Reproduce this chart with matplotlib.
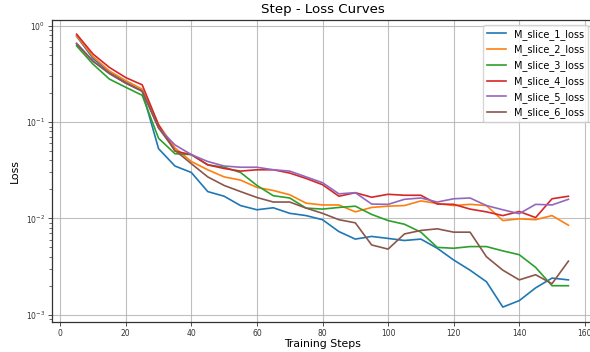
import numpy as np
import matplotlib
matplotlib.use("Agg")
import matplotlib.pyplot as plt

steps = list(range(5, 160, 5))

slice_1 = [0.78, 0.46, 0.33, 0.26, 0.21, 0.053, 0.035, 0.030, 0.019, 0.017,
           0.0136, 0.0123, 0.0129, 0.0113, 0.0107, 0.0097, 0.0073, 0.0061, 0.0065, 0.0062,
           0.0059, 0.0061, 0.0049, 0.0037, 0.0029, 0.0022, 0.0012, 0.0014, 0.0019, 0.0024,
           0.0023]
slice_2 = [0.79, 0.48, 0.34, 0.27, 0.22, 0.094, 0.054, 0.039, 0.032, 0.027,
           0.025, 0.021, 0.0195, 0.0176, 0.0144, 0.0138, 0.0138, 0.0117, 0.013, 0.0134,
           0.0136, 0.0152, 0.0143, 0.0136, 0.014, 0.0136, 0.0095, 0.0099, 0.0097, 0.0107,
           0.0085]
slice_3 = [0.62, 0.40, 0.28, 0.23, 0.19, 0.068, 0.047, 0.046, 0.036, 0.034,
           0.030, 0.022, 0.0172, 0.0163, 0.0128, 0.0125, 0.013, 0.0134, 0.011, 0.0095,
           0.0087, 0.0072, 0.0050, 0.0049, 0.0051, 0.0051, 0.0046, 0.0042, 0.0031, 0.0020,
           0.0020]
slice_4 = [0.82, 0.51, 0.37, 0.29, 0.244, 0.094, 0.050, 0.046, 0.036, 0.033,
           0.031, 0.032, 0.032, 0.0296, 0.026, 0.0224, 0.017, 0.0185, 0.0166, 0.0178,
           0.0174, 0.0174, 0.0141, 0.014, 0.0125, 0.0117, 0.0107, 0.0118, 0.0102, 0.016,
           0.017]
slice_5 = [0.66, 0.43, 0.32, 0.254, 0.21, 0.087, 0.058, 0.046, 0.039, 0.035,
           0.034, 0.034, 0.032, 0.031, 0.027, 0.0235, 0.018, 0.0185, 0.0141, 0.014,
           0.0158, 0.0163, 0.0148, 0.016, 0.0163, 0.0136, 0.0123, 0.0112, 0.014, 0.0138,
           0.0158]
slice_6 = [0.65, 0.43, 0.32, 0.254, 0.21, 0.087, 0.051, 0.037, 0.027, 0.022,
           0.019, 0.0165, 0.0148, 0.0148, 0.0128, 0.0113, 0.0097, 0.0090, 0.0053, 0.0048,
           0.0069, 0.0075, 0.0078, 0.0072, 0.0072, 0.0040, 0.0029, 0.0023, 0.0026, 0.0021,
           0.0036]

series = {
    "M_slice_1_loss": slice_1,
    "M_slice_2_loss": slice_2,
    "M_slice_3_loss": slice_3,
    "M_slice_4_loss": slice_4,
    "M_slice_5_loss": slice_5,
    "M_slice_6_loss": slice_6,
}

fig = plt.figure(figsize=(5.9, 3.52), dpi=100)
ax = fig.add_axes([52 / 590, 1 - 322 / 352, 541 / 590, 302 / 352])

for name, vals in series.items():
    ax.plot(steps, vals, label=name, linewidth=1.2)

ax.set_yscale('log')
ax.set_xlim(-2.5, 162.5)
ax.set_ylim(0.00084, 1.15)
ax.set_xticks(np.arange(0, 161, 20))
ax.grid(True, which='major', color='#b0b0b0', linewidth=0.8, alpha=0.8)
ax.tick_params(axis='both', which='major', labelsize=5.5, length=3, width=0.6,
               pad=2, colors='#333333')
ax.tick_params(axis='y', which='minor', length=2, width=0.5, colors='#333333')
for sp in ax.spines.values():
    sp.set_color('#333333')
    sp.set_linewidth(0.9)

ax.set_title("Step - Loss Curves", fontsize=9.6, pad=5)
ax.set_xlabel("Training Steps", fontsize=7.8, labelpad=1)
ax.set_ylabel("Loss", fontsize=7.8, labelpad=4)
ax.legend(loc='upper right', fontsize=7, framealpha=0.8)

fig.savefig("out.png", dpi=100)
